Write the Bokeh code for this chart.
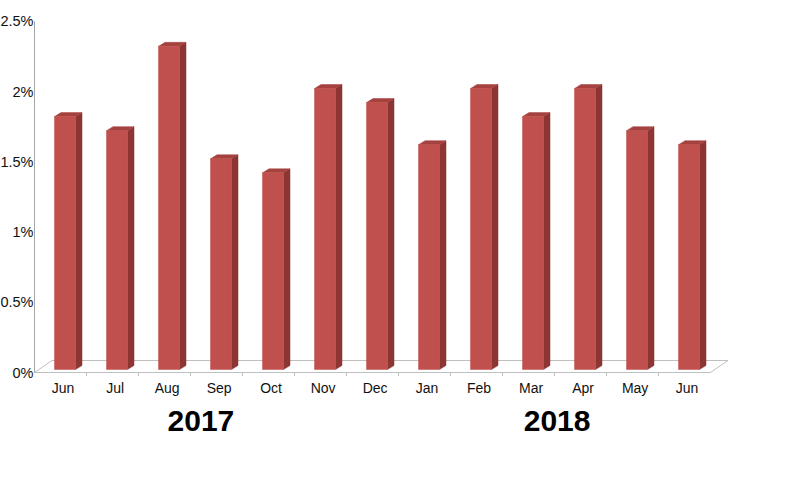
import numpy as np
from bokeh.plotting import figure
from bokeh.models import ColumnDataSource, LinearAxis, FixedTicker, Range1d
from bokeh.core.properties import value
from bokeh.embed import file_html
from bokeh.resources import INLINE

# ---- data ----
months = ["Jun", "Jul", "Aug", "Sep", "Oct", "Nov", "Dec",
          "Jan", "Feb", "Mar", "Apr", "May", "Jun"]
rates = [1.8, 1.7, 2.3, 1.5, 1.4, 2.0, 1.9, 1.6, 2.0, 1.8, 2.0, 1.7, 1.6]
y_ticks = [0, 0.5, 1, 1.5, 2, 2.5]
y_labels = ["0%", "0.5%", "1%", "1.5%", "2%", "2.5%"]
years = ["2017", "2018"]
year_pos = [2.7, 9.55]

# ---- geometry (pixel scales of the frame) ----
W, H = 790, 495
PX_X = 52.0      # px per category
PX_Y = 140.5     # px per 1 %
FIRST_CAT_PX = 60.0
zero_px = 372
frame_bottom_px = 378
BOTTOM = H - frame_bottom_px
y_start = -(frame_bottom_px - zero_px) / PX_Y
y_end = zero_px / PX_Y
x_start = -FIRST_CAT_PX / PX_X
x_end = x_start + W / PX_X

FRONT = "#C0504D"
SIDE = "#8C3533"
TOP = "#A5413E"
FLOOR = "#BFBFBF"

p = figure(width=W, height=H, output_backend="svg", toolbar_location=None,
           x_axis_type=None, y_axis_type=None,
           x_range=Range1d(x_start, x_end), y_range=Range1d(y_start, y_end),
           min_border_left=0, min_border_right=0, min_border_top=0,
           min_border_bottom=BOTTOM)
p.outline_line_color = None
p.background_fill_color = "white"
p.border_fill_color = "white"

n = len(rates)
idx = np.arange(n, dtype=float)
v = np.array(rates, dtype=float)

# 3D offsets in data units
fdx, fdy = 17.5 / PX_X, 12.0 / PX_Y        # floor depth
bdx, bdy = 4.5 / PX_X, 3.0 / PX_Y          # bar front offset from floor front
sdx, sdy = 6.5 / PX_X, 4.0 / PX_Y          # bar depth
hw = 10.5 / PX_X                           # half width of bar face

# floor
x0, x1 = -0.5, n - 0.5
p.patch([x0, x1, x1 + fdx, x0 + fdx], [0, 0, fdy, fdy],
        fill_color="white", line_color=FLOOR, line_width=1)
# boundary ticks on the floor front edge
bx = np.arange(1, n) - 0.5
p.segment(x0=bx, y0=np.zeros(len(bx)), x1=bx, y1=np.full(len(bx), -3.5 / PX_Y),
          line_color=FLOOR, line_width=1)
# value axis line
p.segment(x0=[x0], y0=[0], x1=[x0], y1=[y_ticks[-1]], line_color="#A6A6A6", line_width=1)

# bars
left = idx - hw + bdx
right = idx + hw + bdx
bottom = np.full(n, bdy)
top = v + bdy

side_xs = [[r, r + sdx, r + sdx, r] for r in right]
side_ys = [[b, b + sdy, t + sdy, t] for b, t in zip(bottom, top)]
top_xs = [[l, l + sdx, r + sdx, r] for l, r in zip(left, right)]
top_ys = [[t, t + sdy, t + sdy, t] for t in top]

p.patches(side_xs, side_ys, fill_color=SIDE, line_color=SIDE, line_width=0.5)
p.patches(top_xs, top_ys, fill_color=TOP, line_color=TOP, line_width=0.5)
p.quad(left=left, right=right, bottom=bottom, top=top,
       fill_color=FRONT, line_color=FRONT, line_width=0.5)

# value tick labels
ysrc = ColumnDataSource(dict(x=[x0] * len(y_ticks), y=y_ticks, t=y_labels))
p.text(x="x", y="y", text="t", source=ysrc, x_offset=-1,
       text_align="right", text_baseline="middle",
       text_font=value("Liberation Sans"), text_font_size="14.5px", text_color="#111111")

# month axis
mticks = [float(i) + 0.05 for i in range(n)]
ax_m = LinearAxis(ticker=FixedTicker(ticks=mticks),
                  major_label_overrides={t: m for t, m in zip(mticks, months)})
ax_m.axis_line_color = None
ax_m.major_tick_line_color = None
ax_m.minor_tick_line_color = None
ax_m.major_tick_out = 0
ax_m.major_tick_in = 0
ax_m.major_label_standoff = 1
ax_m.major_label_text_font = "Liberation Sans"
ax_m.major_label_text_font_size = "14px"
ax_m.major_label_text_color = "#111111"
p.add_layout(ax_m, "below")

# year axis
ax_y = LinearAxis(ticker=FixedTicker(ticks=year_pos),
                  major_label_overrides={t: y for t, y in zip(year_pos, years)})
ax_y.axis_line_color = None
ax_y.major_tick_line_color = None
ax_y.minor_tick_line_color = None
ax_y.major_tick_out = 0
ax_y.major_tick_in = 0
ax_y.major_label_standoff = 12
ax_y.major_label_text_font = "Liberation Sans"
ax_y.major_label_text_font_style = "bold"
ax_y.major_label_text_font_size = "30px"
ax_y.major_label_text_color = "#000000"
p.add_layout(ax_y, "below")

open("out.html", "w").write(file_html(p, INLINE))
